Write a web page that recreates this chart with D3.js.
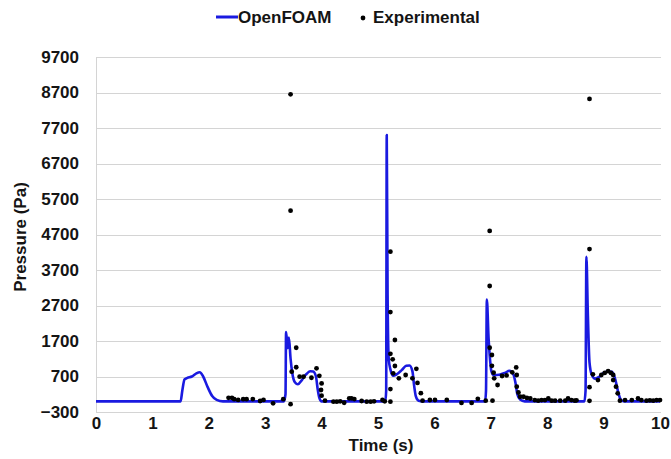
<!DOCTYPE html>
<html><head><meta charset="utf-8">
<script src="https://cdn.jsdelivr.net/npm/d3@7"></script>
<style>
html,body{margin:0;padding:0;background:#fff;}
svg{display:block;font-family:"Liberation Sans",Arial,sans-serif;}
</style></head>
<body>
<svg id="c" width="671" height="459"></svg>
<script>
// Tick labels
const yTicks = [-300,700,1700,2700,3700,4700,5700,6700,7700,8700,9700];
const xTicks = [0,1,2,3,4,5,6,7,8,9,10];

// OpenFOAM series
const foamTime = [0,1.50,1.53,1.57,1.62,1.70,1.78,1.84,1.90,1.98,2.06,2.14,2.25,
  3.33,3.36,3.37,3.40,3.42,3.45,3.48,3.53,3.58,3.65,3.72,3.80,3.85,3.90,3.93,3.96,4.00,
  5.13,5.145,5.155,5.17,5.19,5.22,5.27,5.33,5.42,5.50,5.56,5.61,5.64,5.67,5.72,5.80,
  6.90,6.915,6.93,6.96,6.98,7.01,7.05,7.15,7.25,7.33,7.40,7.44,7.47,7.52,7.60,
  8.66,8.68,8.695,8.72,8.75,8.79,8.85,8.93,9.00,9.06,9.15,9.21,9.26,9.30,9.36,10];
const foamP = [0,0,300,620,660,700,790,820,700,400,150,40,0,
  0,200,1950,1500,1800,1200,800,530,480,600,750,850,840,700,350,100,0,
  0,300,7500,3000,1200,900,720,760,880,1000,1010,850,450,150,20,0,
  0,300,2870,1800,1300,850,740,750,800,860,760,500,200,50,0,
  0,300,4070,2500,1100,750,640,700,800,840,830,600,250,60,0,0];

// Experimental series
const expTime = [2.35,2.41,2.45,2.52,2.61,2.67,2.78,2.91,2.97,3.14,3.32,
  3.45,3.45,3.45,3.47,3.55,3.55,3.61,3.68,3.82,3.91,3.96,4.00,3.99,4.00,4.06,
  4.21,4.27,4.33,4.40,4.49,4.53,4.58,4.71,4.80,4.87,4.93,5.08,5.12,
  5.22,5.22,5.22,5.22,5.22,5.30,5.26,5.30,5.27,5.37,5.49,5.61,5.68,5.70,5.76,5.79,
  5.92,6.01,6.22,6.48,6.66,6.77,6.91,7.03,
  6.98,6.98,6.98,7.02,7.02,7.05,7.06,7.12,7.20,7.28,7.38,7.45,7.46,7.46,7.49,
  7.52,7.58,7.64,7.70,7.78,7.84,7.90,7.96,8.02,8.08,8.14,8.23,8.32,8.37,8.43,8.49,8.52,
  8.75,8.75,8.75,8.75,8.81,8.90,8.96,9.02,9.08,9.13,9.17,9.17,9.22,9.25,9.29,
  9.38,9.50,9.61,9.67,9.76,9.82,9.88,9.94,10.0];
const expP = [100,100,60,40,60,60,65,10,40,-55,60,
  8650,5370,-80,835,1510,960,695,695,665,930,720,505,320,160,20,
  -10,-10,0,-40,85,85,65,10,-10,-10,0,38,0,
  4215,2515,1340,345,-10,1728,1184,996,790,650,742,650,915,520,230,20,
  38,38,38,-45,-45,70,18,18,
  4800,3250,1510,1306,1000,807,650,460,714,730,818,955,742,413,250,
  130,130,97,80,35,18,35,35,80,18,18,18,18,80,35,18,30,
  8520,4290,400,15,760,600,742,800,850,800,742,600,413,226,18,
  35,35,80,35,18,30,18,35,35];

const svg = d3.select("#c");
const x = d3.scaleLinear().domain([0,10]).range([96,660]);
const y = d3.scaleLinear().domain([-300,9700]).range([412,57]);
const txt = "#141414";

// gridlines
svg.append("g").selectAll("line").data(yTicks.concat([0])).join("line")
  .attr("x1",96).attr("x2",661).attr("y1",d=>Math.round(y(d))+0.5).attr("y2",d=>Math.round(y(d))+0.5)
  .attr("stroke","#d4d4d4").attr("stroke-width",1);
svg.append("line").attr("x1",96.5).attr("x2",96.5).attr("y1",y(9700)).attr("y2",y(-300))
  .attr("stroke","#d4d4d4");

// y axis labels
const yAxis = d3.axisLeft(y).tickValues(yTicks).tickSize(0).tickPadding(17).tickFormat(d3.format("d"));
const gy = svg.append("g").attr("transform","translate(96,0)").call(yAxis);
gy.select(".domain").remove();
gy.selectAll("text").attr("font-size",17).attr("font-weight","bold").attr("fill",txt)
  .attr("font-family","'Liberation Sans', Arial, sans-serif");

// x axis labels
const xAxis = d3.axisBottom(x).tickValues(xTicks).tickSize(0).tickPadding(5).tickFormat(d3.format("d"));
const gx = svg.append("g").attr("transform","translate(0,412)").call(xAxis);
gx.select(".domain").remove();
gx.selectAll("text").attr("font-size",17).attr("font-weight","bold").attr("fill",txt)
  .attr("font-family","'Liberation Sans', Arial, sans-serif");

// axis titles
svg.append("text").attr("x",381).attr("y",451).attr("text-anchor","middle")
  .attr("font-size",17).attr("font-weight","bold").attr("fill",txt).text("Time (s)");
svg.append("text").attr("transform","translate(26,237) rotate(-90)").attr("text-anchor","middle")
  .attr("font-size",17).attr("font-weight","bold").attr("fill",txt).text("Pressure (Pa)");

// line
const foam = foamTime.map((t,i)=>[t,foamP[i]]);
svg.append("path").datum(foam)
  .attr("d",d3.line().x(d=>x(d[0])).y(d=>y(d[1])).curve(d3.curveMonotoneX))
  .attr("fill","none").attr("stroke","#1a1ae0").attr("stroke-width",2.6).attr("stroke-linejoin","round");

// points
const exp = expTime.map((t,i)=>[t,expP[i]]);
svg.append("g").selectAll("circle").data(exp).join("circle")
  .attr("cx",d=>x(d[0])).attr("cy",d=>y(d[1])).attr("r",2.4).attr("fill","#000");

// legend
const lg = svg.append("g");
lg.append("line").attr("x1",216).attr("x2",238).attr("y1",17).attr("y2",17)
  .attr("stroke","#1a1ae0").attr("stroke-width",3);
lg.append("text").attr("x",238).attr("y",23).attr("font-size",17).attr("font-weight","bold")
  .attr("fill",txt).text("OpenFOAM");
lg.append("circle").attr("cx",363).attr("cy",18).attr("r",2.4).attr("fill","#000");
lg.append("text").attr("x",373).attr("y",23).attr("font-size",17).attr("font-weight","bold")
  .attr("fill",txt).text("Experimental");
</script>
</body></html>
